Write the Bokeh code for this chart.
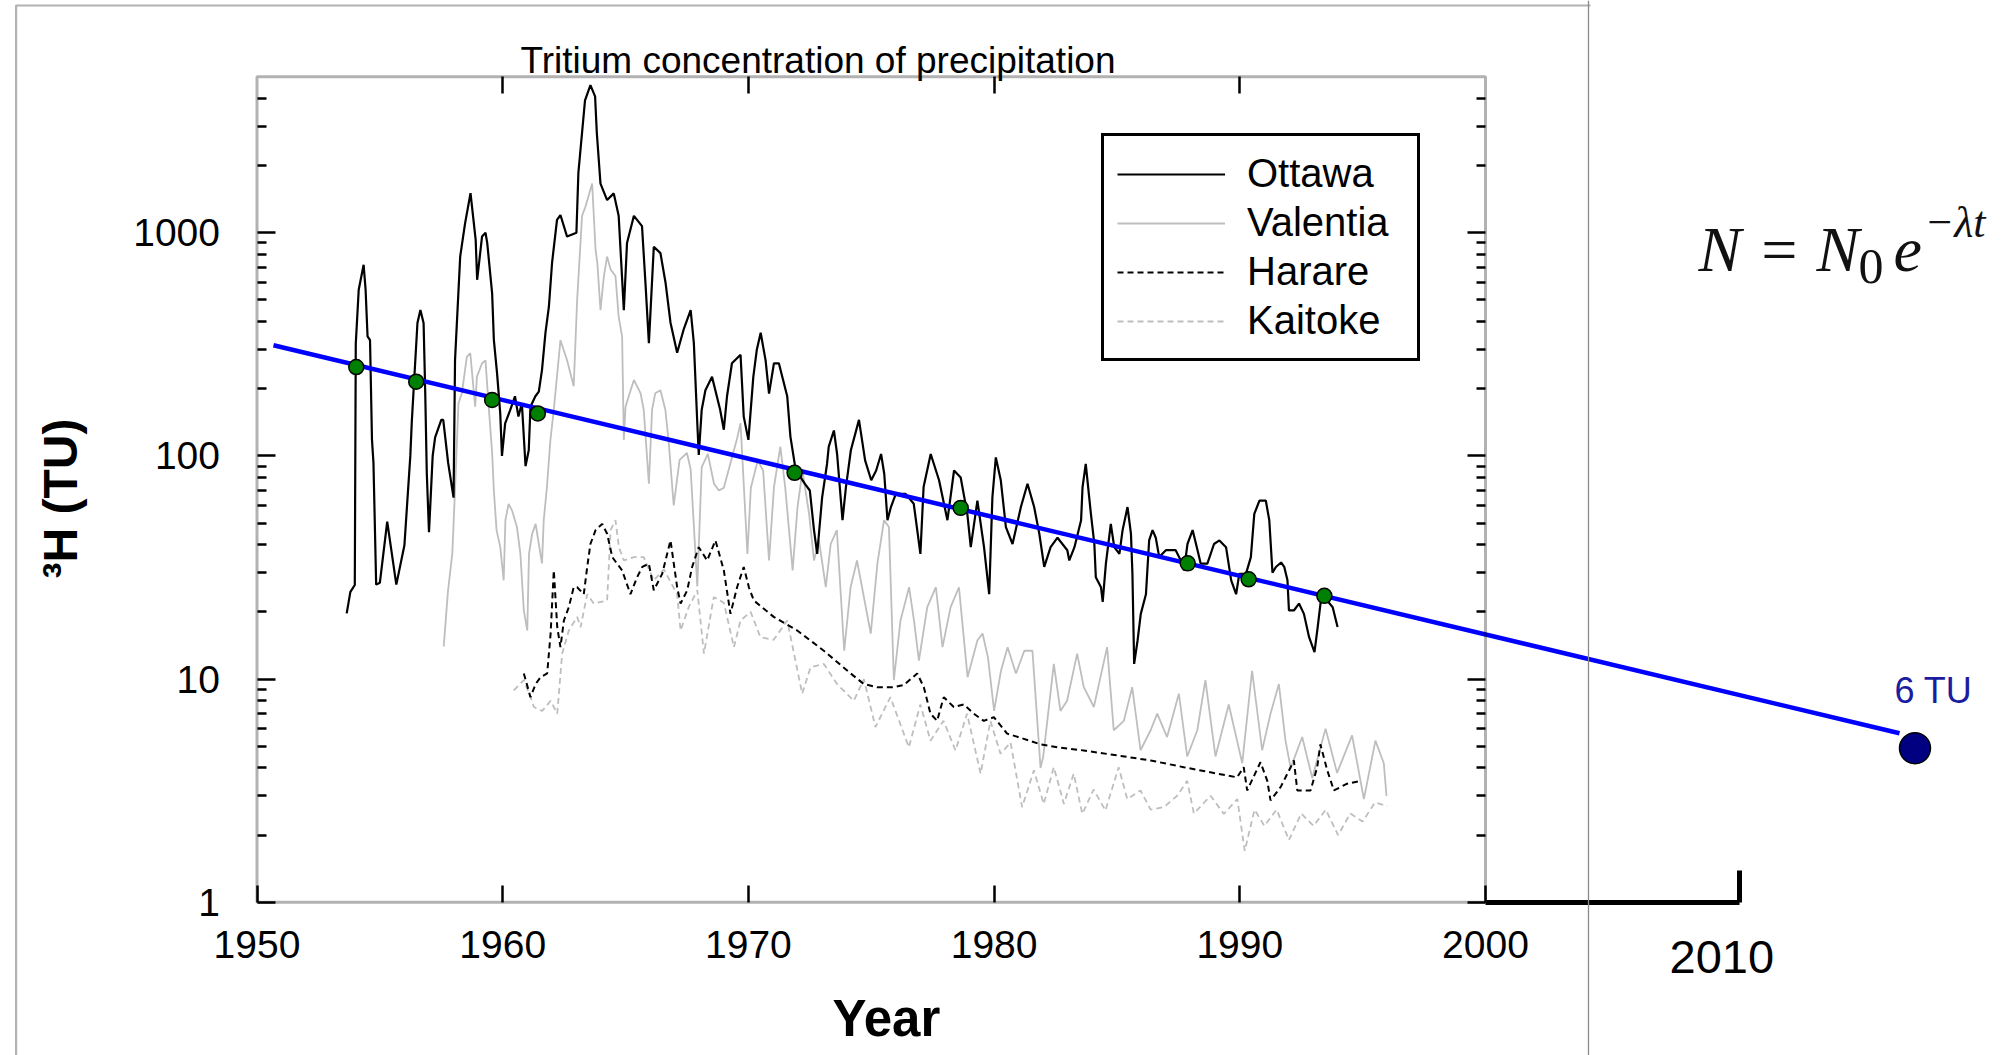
import math
from bokeh.plotting import figure
from bokeh.models import (Range1d, LinearAxis, FixedTicker, BoxAnnotation, Span, Label,
                          Legend, LegendItem, NumeralTickFormatter, CustomJSTickFormatter, Grid)
from bokeh.embed import file_html
from bokeh.resources import INLINE

# ---------------- data ----------------
ottawa = [(1953.65, 19.7), (1953.80, 24.6), (1953.98, 26.4), (1954.02, 318), (1954.14, 555),
          (1954.34, 718), (1954.42, 555), (1954.50, 343), (1954.60, 330), (1954.68, 118),
          (1954.74, 93), (1954.85, 26.5), (1955.00, 27), (1955.30, 50.8), (1955.67, 26.5),
          (1956.00, 39.8), (1956.24, 100), (1956.30, 142), (1956.53, 394), (1956.65, 451),
          (1956.78, 394), (1956.85, 185), (1956.91, 84), (1957.00, 45.5), (1957.15, 100),
          (1957.25, 121), (1957.50, 145), (1957.58, 145), (1957.78, 93), (1958.00, 65),
          (1958.06, 269), (1958.27, 782), (1958.47, 1104), (1958.69, 1503), (1958.90, 929),
          (1958.96, 615), (1959.16, 962), (1959.30, 1000), (1959.37, 900), (1959.57, 535),
          (1959.64, 331), (1959.77, 235), (1959.90, 155), (1959.97, 100), (1960.10, 140),
          (1960.30, 160), (1960.50, 185), (1960.64, 150), (1960.78, 172), (1960.93, 90),
          (1961.06, 106), (1961.13, 166), (1961.33, 185), (1961.47, 194), (1961.60, 243),
          (1961.74, 356), (1961.88, 466), (1962.01, 735), (1962.21, 1140), (1962.35, 1200),
          (1962.62, 961), (1963.00, 1000), (1963.08, 1852), (1963.35, 3920), (1963.57, 4580),
          (1963.76, 4080), (1963.83, 2810), (1963.98, 1660), (1964.25, 1400), (1964.52, 1500),
          (1964.72, 1190), (1964.93, 450), (1965.06, 900), (1965.34, 1190), (1965.67, 1070),
          (1965.81, 595), (1965.95, 320), (1966.15, 865), (1966.42, 810), (1966.63, 595),
          (1966.83, 395), (1967.10, 290), (1967.37, 370), (1967.65, 450), (1967.78, 320),
          (1967.92, 140), (1967.98, 101), (1968.10, 161), (1968.25, 197), (1968.52, 226),
          (1968.85, 161), (1969.00, 131), (1969.13, 185), (1969.33, 260), (1969.68, 284),
          (1969.81, 150), (1970.00, 118), (1970.20, 226), (1970.34, 298), (1970.50, 356),
          (1970.70, 268), (1970.84, 190), (1971.04, 260), (1971.24, 260), (1971.58, 185),
          (1971.71, 122), (1971.90, 90), (1972.10, 81), (1972.30, 75), (1972.50, 70),
          (1972.67, 46.5), (1972.80, 36.4), (1973.00, 65), (1973.20, 92), (1973.27, 110),
          (1973.48, 130), (1973.61, 102), (1973.83, 51.5), (1973.97, 72.5), (1974.17, 106),
          (1974.50, 145), (1974.75, 95.5), (1975.00, 77.8), (1975.20, 86), (1975.40, 102),
          (1975.53, 83), (1975.66, 51.5), (1975.80, 59), (1976.00, 67.6), (1976.40, 67.6),
          (1976.73, 61), (1977.00, 36.4), (1977.13, 72.5), (1977.42, 102), (1977.76, 77.8),
          (1978.10, 51.5), (1978.37, 86), (1978.64, 80), (1978.91, 55), (1979.05, 39),
          (1979.32, 63), (1979.59, 39), (1979.80, 24), (1979.93, 65), (1980.07, 98.5),
          (1980.27, 78), (1980.48, 48), (1980.75, 40.3), (1981.09, 59), (1981.36, 75),
          (1981.63, 59), (1981.84, 44.8), (1982.04, 31.8), (1982.30, 39), (1982.58, 43),
          (1982.98, 37.8), (1983.06, 34), (1983.27, 39), (1983.54, 51.5), (1983.60, 72.5),
          (1983.73, 92), (1983.94, 55), (1984.08, 40.3), (1984.14, 28.6), (1984.35, 25.8),
          (1984.42, 22.2), (1984.55, 32.9), (1984.75, 49.6), (1984.89, 39), (1985.10, 36.4),
          (1985.23, 46.5), (1985.43, 59), (1985.57, 44.8), (1985.63, 29.6), (1985.70, 11.7),
          (1985.84, 14.9), (1985.97, 19.6), (1986.18, 24), (1986.31, 41.8), (1986.45, 46.5),
          (1986.58, 43), (1986.72, 35.2), (1986.99, 37.8), (1987.39, 37.8), (1987.60, 34),
          (1987.73, 30.7), (1987.87, 40.3), (1988.08, 46.5), (1988.28, 37.8), (1988.41, 32.9),
          (1988.68, 32.9), (1988.95, 40.3), (1989.17, 41.8), (1989.44, 39), (1989.65, 27.7),
          (1989.85, 24), (1989.98, 29.6), (1990.25, 29.6), (1990.45, 35.2), (1990.59, 55),
          (1990.80, 63), (1991.06, 63), (1991.20, 51.5), (1991.33, 30), (1991.47, 31.8),
          (1991.68, 33.3), (1991.81, 31.8), (1991.94, 27.7), (1992.00, 20.3), (1992.20, 20.3),
          (1992.41, 21.8), (1992.61, 19.6), (1992.82, 15.4), (1993.04, 13.2), (1993.17, 17.1),
          (1993.30, 22.5), (1993.44, 23.3), (1993.78, 21), (1993.98, 17.1)]

valentia = [(1957.60, 14.0), (1957.77, 24.6), (1957.95, 36.7), (1958.07, 75), (1958.20, 172),
            (1958.34, 191), (1958.54, 278), (1958.68, 289), (1958.88, 166), (1958.95, 226),
            (1959.16, 260), (1959.30, 268), (1959.43, 166), (1959.57, 103), (1959.64, 70),
            (1959.75, 46.5), (1959.90, 39), (1960.04, 27.7), (1960.11, 51.5), (1960.24, 61),
            (1960.38, 57), (1960.58, 48), (1960.72, 36.4), (1960.86, 20.3), (1961.00, 16.5),
            (1961.07, 36.4), (1961.20, 44.8), (1961.34, 49.6), (1961.47, 40.3), (1961.60, 33),
            (1961.67, 51.5), (1961.80, 72.5), (1961.94, 117), (1962.08, 161), (1962.35, 330),
            (1962.62, 268), (1962.89, 205), (1963.03, 500), (1963.23, 1190), (1963.37, 1310),
            (1963.64, 1660), (1963.78, 837), (1963.85, 735), (1963.98, 450), (1964.12, 640),
            (1964.25, 782), (1964.39, 685), (1964.59, 640), (1964.72, 420), (1964.86, 343),
            (1964.93, 118), (1965.00, 166), (1965.13, 185), (1965.34, 219), (1965.61, 191),
            (1965.74, 161), (1965.95, 75), (1966.08, 161), (1966.21, 191), (1966.42, 197),
            (1966.62, 161), (1966.76, 114), (1966.96, 60), (1967.20, 96), (1967.50, 103),
            (1967.65, 87), (1967.92, 26), (1968.10, 89), (1968.35, 102), (1968.60, 75),
            (1968.80, 70), (1969.00, 72), (1969.55, 121), (1969.68, 140), (1969.81, 75),
            (1969.96, 36.4), (1970.10, 72), (1970.38, 95.5), (1970.60, 86), (1970.84, 34),
            (1971.04, 72.5), (1971.30, 110), (1971.50, 72), (1971.80, 30.7), (1972.00, 59),
            (1972.20, 86), (1972.47, 55), (1972.67, 34), (1972.87, 42), (1973.15, 25.8),
            (1973.35, 40.3), (1973.60, 46.5), (1973.90, 13.4), (1974.16, 25.8), (1974.42, 34),
            (1974.98, 16), (1975.25, 32.9), (1975.52, 51.5), (1975.72, 48), (1975.92, 9.9),
            (1976.19, 18.3), (1976.54, 25.8), (1976.74, 18.3), (1976.94, 12.1), (1977.28, 21),
            (1977.63, 25.8), (1977.90, 13.9), (1978.23, 21), (1978.57, 25.8), (1978.92, 10.2),
            (1979.32, 14.9), (1979.53, 16), (1979.75, 12.5), (1980.00, 7.2), (1980.28, 10.9),
            (1980.55, 13.9), (1980.89, 10.6), (1981.23, 13.4), (1981.56, 13.4), (1981.89, 4.0),
            (1982.00, 4.5), (1982.43, 11.7), (1982.70, 7.2), (1982.97, 8.0), (1983.38, 13.0),
            (1983.65, 9.2), (1984.06, 7.5), (1984.60, 13.9), (1984.87, 5.9), (1985.28, 6.5),
            (1985.62, 9.2), (1985.96, 4.8), (1986.37, 5.9), (1986.64, 7.0), (1987.04, 5.5),
            (1987.52, 8.6), (1987.86, 4.5), (1988.27, 5.9), (1988.60, 9.9), (1989.01, 4.5),
            (1989.55, 7.7), (1990.10, 4.2), (1990.50, 10.9), (1990.91, 4.8), (1991.25, 7.0),
            (1991.59, 9.5), (1991.86, 5.3), (1992.07, 4.0), (1992.54, 5.5), (1992.95, 3.6),
            (1993.49, 6.0), (1993.96, 3.8), (1994.57, 5.6), (1995.05, 2.9), (1995.52, 5.3),
            (1995.86, 4.2), (1995.97, 3.0)]

harare = [(1960.86, 10.6), (1961.13, 8.3), (1961.34, 9.5), (1961.54, 10.2), (1961.81, 10.6),
          (1961.95, 16), (1962.08, 30.7), (1962.22, 17.1), (1962.35, 13.9), (1962.49, 18.3),
          (1962.69, 21), (1962.89, 25.8), (1963.03, 25.8), (1963.30, 24), (1963.44, 31.8),
          (1963.57, 40.3), (1963.78, 46.5), (1964.05, 49.6), (1964.25, 44.8), (1964.46, 35.2),
          (1964.86, 30.7), (1965.20, 24), (1965.47, 28.6), (1965.68, 31.8), (1965.95, 32.9),
          (1966.15, 25), (1966.49, 29.6), (1966.83, 41.8), (1967.10, 25.8), (1967.24, 21.8),
          (1967.51, 25), (1967.71, 31.8), (1967.98, 39), (1968.32, 34), (1968.66, 41.8),
          (1969.00, 30.7), (1969.27, 19.6), (1969.54, 25.8), (1969.81, 31.8), (1970.02, 25.8),
          (1970.22, 22.5), (1971.03, 19), (1971.99, 16.5), (1973.07, 13.4), (1974.16, 10.6),
          (1974.70, 9.5), (1975.24, 9.2), (1975.92, 9.2), (1976.32, 9.4), (1976.87, 10.6),
          (1977.14, 9.2), (1977.41, 7.0), (1977.68, 6.5), (1977.95, 8.3), (1978.36, 7.5),
          (1978.77, 7.7), (1979.17, 7.0), (1979.58, 6.5), (1979.99, 6.75), (1980.53, 5.7),
          (1981.21, 5.4), (1981.89, 5.1), (1982.57, 4.95), (1983.65, 4.79), (1985.01, 4.55),
          (1986.37, 4.32), (1987.72, 4.03), (1989.08, 3.77), (1989.89, 3.63), (1990.16, 4.03),
          (1990.30, 3.17), (1990.84, 4.24), (1991.12, 3.5), (1991.25, 2.86), (1991.66, 3.28),
          (1992.07, 4.03), (1992.20, 4.32), (1992.34, 3.17), (1992.88, 3.17), (1993.15, 4.03),
          (1993.28, 5.1), (1993.56, 3.9), (1993.83, 3.17), (1994.37, 3.4), (1994.91, 3.5)]

kaitoke = [(1960.45, 8.9), (1960.86, 9.9), (1961.13, 8.3), (1961.27, 7.5), (1961.61, 7.2),
           (1961.95, 8.0), (1962.22, 7.0), (1962.42, 13), (1962.69, 16.5), (1963.03, 19),
           (1963.17, 17.1), (1963.44, 24), (1963.71, 21.8), (1964.25, 22.5), (1964.39, 46.5),
           (1964.59, 51.5), (1964.73, 39), (1964.93, 34), (1965.34, 35.2), (1965.74, 35.2),
           (1966.15, 27.7), (1966.56, 31), (1967.10, 24), (1967.24, 16.5), (1967.57, 21),
           (1967.92, 25), (1968.19, 13), (1968.59, 23.3), (1969.00, 22), (1969.41, 13.9),
           (1969.68, 18.3), (1970.09, 20), (1970.49, 15.4), (1971.03, 15), (1971.58, 18.3),
           (1972.19, 8.6), (1972.53, 11.3), (1973.07, 11.7), (1973.61, 9.5), (1974.29, 8.0),
           (1974.70, 10), (1975.17, 6.1), (1975.78, 8.3), (1976.53, 4.95), (1977.00, 7.7),
           (1977.41, 5.3), (1977.94, 6.5), (1978.43, 4.79), (1978.90, 7.0), (1979.45, 3.77),
           (1979.85, 6.5), (1980.26, 4.63), (1980.67, 5.2), (1981.14, 2.67), (1981.62, 3.9),
           (1982.02, 2.76), (1982.43, 4.03), (1982.84, 2.76), (1983.24, 3.77), (1983.59, 2.49),
           (1984.05, 3.2), (1984.53, 2.58), (1985.07, 4.03), (1985.42, 2.9), (1985.96, 3.17),
           (1986.37, 2.6), (1986.91, 2.67), (1987.45, 3.0), (1987.86, 3.5), (1988.13, 2.5),
           (1988.81, 3.0), (1989.35, 2.49), (1989.90, 2.9), (1990.20, 1.7), (1990.60, 2.6),
           (1991.00, 2.2), (1991.50, 2.6), (1992.00, 1.9), (1992.50, 2.5), (1993.00, 2.2),
           (1993.50, 2.6), (1994.00, 2.0), (1994.50, 2.5), (1995.00, 2.3), (1995.50, 2.8),
           (1996.00, 2.7)]

fit_year = [1950.67, 2016.85]
fit_tu = [313, 5.72]
sample_year = [1954.04, 1956.48, 1959.57, 1961.43, 1971.88, 1978.64, 1987.88, 1990.36, 1993.44]
sample_tu = [250, 215, 178, 155, 84, 58.5, 33.0, 28.0, 23.6]
pred_year = [2017.48]
pred_tu = [4.9]
pred_label = "6 TU"

series_names = ["Ottawa", "Valentia", "Harare", "Kaitoke"]
x_ticks = [1950, 1960, 1970, 1980, 1990, 2000]
x_top_ticks = [1960, 1970, 1980, 1990]
y_ticks = [1, 10, 100, 1000]
y_minor = [2, 3, 4, 5, 6, 7, 8, 9, 20, 30, 40, 50, 60, 70, 80, 90,
           200, 300, 400, 500, 600, 700, 800, 900, 2000, 3000, 4000]
ext_tick = [2010.35]
ext_label = "2010"

# ---------------- page geometry: pixel -> data mapping ----------------
W, H = 2003, 1055
PX0, PPY = 256.5, 24.57      # pixel of 1950, pixels per year
PY1, PPD = 901.8, 223.2      # pixel of 1 TU, pixels per decade


def X(px):
    return 1950 + (px - PX0) / PPY


def Y(py):
    return 10 ** ((PY1 - py) / PPD)


p = figure(width=W, height=H, x_range=Range1d(X(0), X(W)), y_range=Range1d(Y(H), Y(0)),
           y_axis_type="log", x_axis_location=None, y_axis_location=None,
           toolbar_location=None, output_backend="svg", min_border=0, title=None,
           outline_line_color=None, background_fill_color="white", border_fill_color="white")
for g in p.select(type=Grid):
    g.visible = False

GRAY = "#bebebe"
r_val = p.line([a for a, b in valentia], [b for a, b in valentia], line_color=GRAY, line_width=1.8)
r_kai = p.line([a for a, b in kaitoke], [b for a, b in kaitoke], line_color=GRAY, line_width=1.8,
               line_dash="6 4")
r_har = p.line([a for a, b in harare], [b for a, b in harare], line_color="black", line_width=2,
               line_dash="6 4")
r_ott = p.line([a for a, b in ottawa], [b for a, b in ottawa], line_color="black", line_width=2.2)
p.line(fit_year, fit_tu, line_color="#0000ff", line_width=4.5)
p.scatter(sample_year, sample_tu, size=15, fill_color="#008000", line_color="black", line_width=1.5)
p.scatter(pred_year, pred_tu, size=31, fill_color="#000080", line_color="black", line_width=1.5)

TICKFONT = "Liberation Sans"
empty = CustomJSTickFormatter(code="return ''")


def style(ax, tin, tw=2.5, minor_in=0):
    ax.axis_line_color = None
    ax.major_tick_in = tin
    ax.major_tick_out = 0
    ax.minor_tick_in = minor_in
    ax.minor_tick_out = 0
    ax.major_tick_line_width = tw
    ax.minor_tick_line_width = tw
    ax.major_label_text_font = TICKFONT
    ax.major_label_text_font_size = "39px"
    ax.major_label_text_color = "black"


bottom = LinearAxis(fixed_location=1, bounds=(1950, 2000), ticker=FixedTicker(ticks=x_ticks),
                    formatter=NumeralTickFormatter(format="0"))
style(bottom, 17)
bottom.major_label_standoff = 29
p.add_layout(bottom, "below")

top = LinearAxis(fixed_location=5000, bounds=(1950, 2000), ticker=FixedTicker(ticks=x_top_ticks),
                 formatter=empty)
style(top, 17)
p.add_layout(top, "above")

left = LinearAxis(fixed_location=1950, bounds=(1, 5000),
                  ticker=FixedTicker(ticks=y_ticks, minor_ticks=y_minor),
                  formatter=NumeralTickFormatter(format="0"))
style(left, 18, minor_in=9)
left.major_label_standoff = 37
p.add_layout(left, "left")

right = LinearAxis(fixed_location=2000, bounds=(1, 5000),
                   ticker=FixedTicker(ticks=y_ticks, minor_ticks=y_minor), formatter=empty)
style(right, 18, minor_in=9)
p.add_layout(right, "right")

ext = LinearAxis(fixed_location=1, bounds=(2000, ext_tick[0]), ticker=FixedTicker(ticks=ext_tick),
                 formatter=empty)
ext.axis_line_width = 5
ext.axis_line_color = "black"
ext.major_tick_in = 32
ext.major_tick_out = 0
ext.major_tick_line_width = 5
ext.minor_tick_in = 0
ext.minor_tick_out = 0
p.add_layout(ext, "below")

# outer slide frame
p.add_layout(BoxAnnotation(left=X(15.6), right=X(2200), top=Y(5), bottom=Y(1300),
                           fill_color=None, line_color="black", line_width=2.2))
p.add_layout(BoxAnnotation(left=X(1590), right=X(2200), top=Y(-20), bottom=Y(12),
                           fill_color="white", fill_alpha=1, line_color=None))
p.add_layout(Span(location=X(1588), dimension="height", line_color="#8a8a8a", line_width=1.3))

# plot frame
p.add_layout(BoxAnnotation(left=1950, right=2000, bottom=1, top=5000,
                           fill_color=None, line_color="black", line_width=3))

legend = Legend(items=[LegendItem(label=series_names[0], renderers=[r_ott]),
                       LegendItem(label=series_names[1], renderers=[r_val]),
                       LegendItem(label=series_names[2], renderers=[r_har]),
                       LegendItem(label=series_names[3], renderers=[r_kai])],
                location=(1101, H - 361))
legend.border_line_color = "black"
legend.border_line_alpha = 1
legend.border_line_width = 3
legend.background_fill_color = "white"
legend.background_fill_alpha = 1
legend.label_text_font = TICKFONT
legend.label_text_font_size = "40px"
legend.label_text_color = "black"
legend.glyph_width = 108
legend.glyph_height = 30
legend.label_height = 49
legend.label_width = 157
legend.label_standoff = 22
legend.spacing = 0
legend.padding = 13
legend.margin = 0
p.add_layout(legend, "center")

SANS = "Liberation Sans"
SERIF = "Liberation Serif"
p.add_layout(Label(x=X(520), y=Y(59.5), text="Tritium concentration of precipitation",
                   text_font=SANS, text_font_size="37px", text_baseline="alphabetic",
                   text_align="left", text_color="black"))
p.add_layout(Label(x=X(60), y=Y(498), text="\u00b3H (TU)", angle=math.pi / 2,
                   text_font=SANS, text_font_style="bold", text_font_size="48px",
                   text_baseline="alphabetic", text_align="center", text_color="black"))
p.add_layout(Label(x=X(832), y=Y(1018), text="Year", text_font=SANS, text_font_style="bold",
                   text_font_size="51px", text_baseline="alphabetic", text_align="left",
                   text_color="black"))
p.add_layout(Label(x=X(1669), y=Y(956), text=ext_label, text_font=SANS, text_font_size="47px",
                   text_baseline="alphabetic", text_align="left", text_color="black"))
p.add_layout(Label(x=X(1894), y=Y(690), text=pred_label, text_font=SANS, text_font_size="36px",
                   text_baseline="alphabetic", text_align="left", text_color="#1c1ca0"))

# formula N = N0 e^(-lambda t)
for txt, px, py, size, style_ in [("N = N", 1698, 249, "64px", "italic"),
                                  ("0", 1858, 266, "50px", "normal"),
                                  ("e", 1893, 249, "64px", "italic"),
                                  ("\u2212\u03bbt", 1924, 222, "44px", "italic")]:
    p.add_layout(Label(x=X(px), y=Y(py), text=txt, text_font=SERIF, text_font_size=size,
                       text_font_style=style_, text_baseline="alphabetic", text_align="left",
                       text_color="#111111"))

open("out.html", "w").write(file_html(p, INLINE))
